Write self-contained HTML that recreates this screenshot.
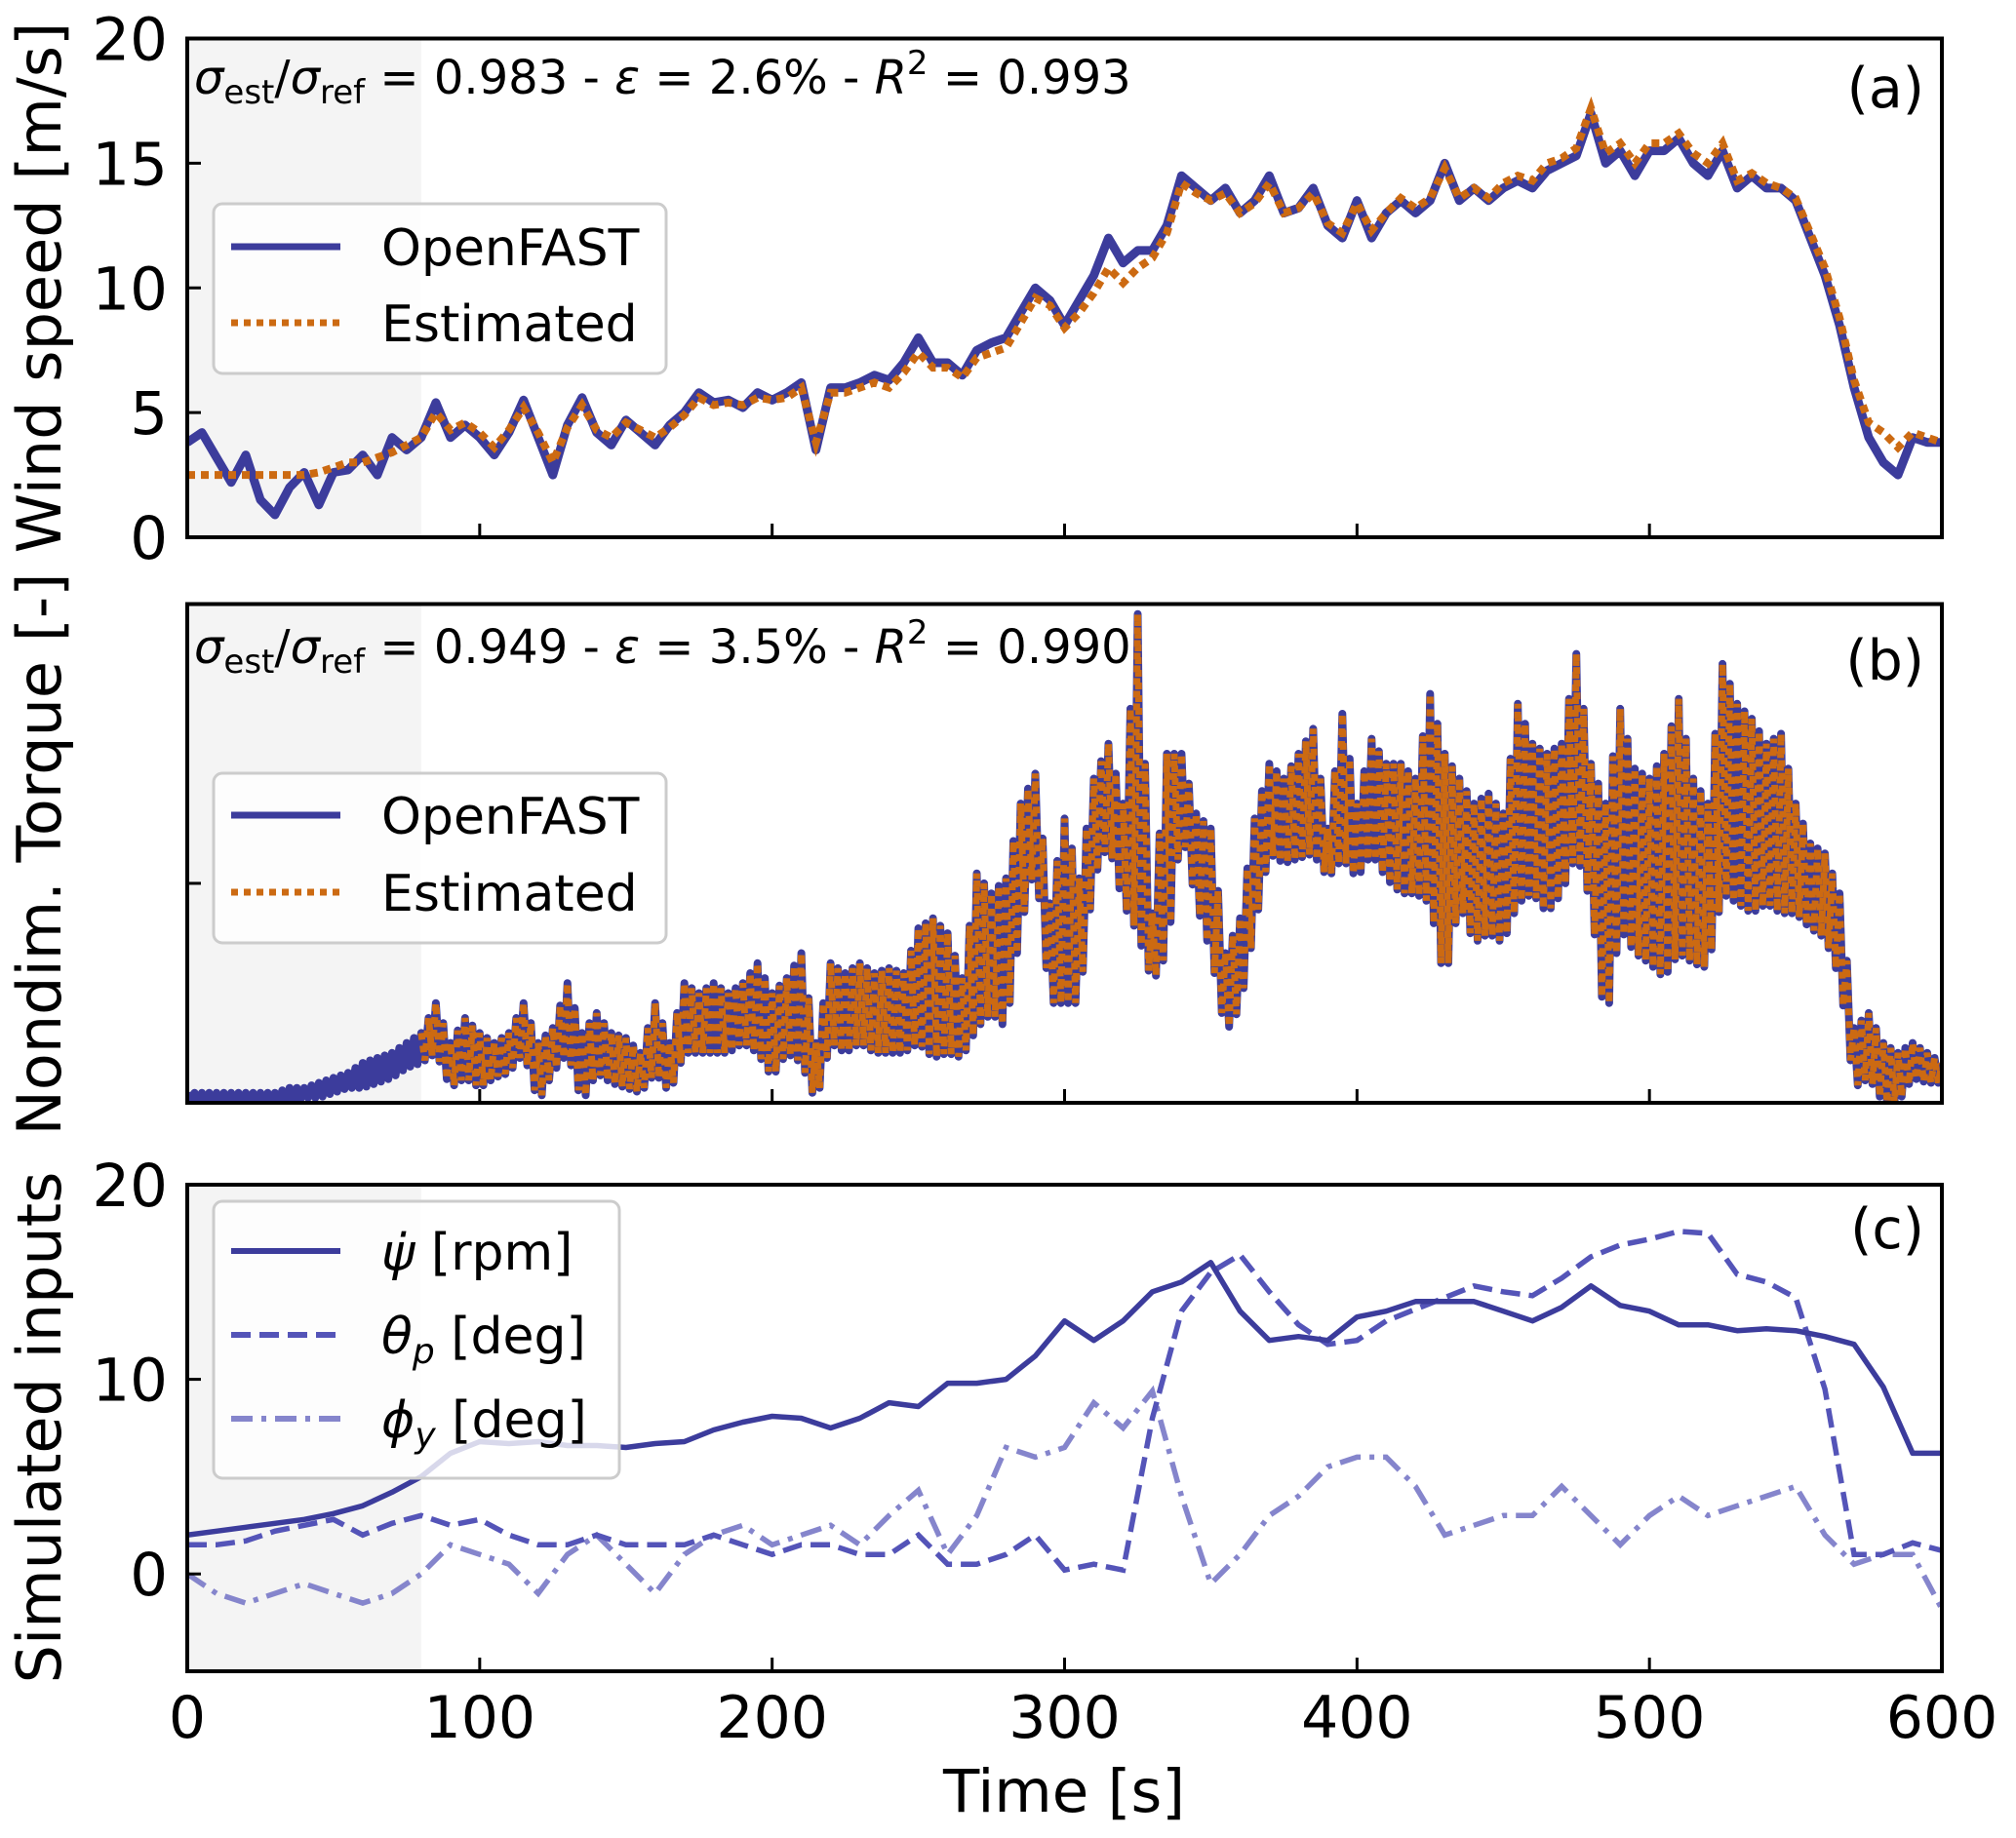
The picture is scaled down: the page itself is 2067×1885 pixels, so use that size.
<!DOCTYPE html>
<html><head><meta charset="utf-8"><style>
html,body{margin:0;padding:0;background:#fff}
svg{display:block;font-family:"DejaVu Sans","Liberation Sans",sans-serif}
</style></head><body>
<svg id="fig" width="2067" height="1885" viewBox="0 0 2067 1885">
<defs>
<clipPath id="clipA"><rect x="192" y="39.5" width="1799" height="511.5"/></clipPath>
<clipPath id="clipB"><rect x="192" y="619.5" width="1799" height="511.5"/></clipPath>
<clipPath id="clipC"><rect x="192" y="1215" width="1799" height="499"/></clipPath>
</defs>
<g id="panelA"></g>
<g id="panelB"></g>
<g id="panelC"></g>
</svg>
<script>
const windTimes = Array.from({length:121},(_,i)=>i*5);
const windRef = [3.8,4.2,3.2,2.2,3.3,1.5,0.9,2.0,2.6,1.3, 2.6,2.7,3.3,2.5,4.0,3.5,4.0,5.4,4.0,4.5, 4.0,3.3,4.2,5.5,4.0,2.5,4.5,5.6,4.2,3.7, 4.7,4.2,3.7,4.5,5.0,5.8,5.4,5.5,5.2,5.8, 5.5,5.8,6.2,3.5,6.0,6.0,6.2,6.5,6.3,7.0, 8.0,7.0,7.0,6.5,7.5,7.8,8.0,9.0,10.0,9.5, 8.5,9.5,10.5,12.0,11.0,11.5,11.5,12.5,14.5,14.0, 13.5,14.0,13.0,13.5,14.5,13.0,13.2,14.0,12.5,12.0, 13.5,12.0,13.0,13.5,13.0,13.5,15.0,13.5,14.0,13.5, 14.0,14.3,14.0,14.7,15.0,15.3,17.0,15.0,15.5,14.5, 15.5,15.5,16.0,15.0,14.5,15.5,14.0,14.5,14.0,14.0, 13.5,12.0,10.5,8.5,6.0,4.0,3.0,2.5,4.0,3.8,3.8];
const windEst = [2.5,2.5,2.5,2.5,2.5,2.5,2.5,2.5,2.5,2.6, 2.8,3.0,3.0,3.2,3.4,3.7,4.0,5.0,4.3,4.6, 4.2,3.6,4.3,5.2,4.2,3.0,4.4,5.3,4.3,4.0, 4.6,4.3,4.0,4.4,4.9,5.6,5.3,5.4,5.3,5.6, 5.5,5.6,6.0,3.8,5.8,5.8,6.0,6.2,6.0,6.6, 7.4,6.8,6.8,6.4,7.2,7.4,7.6,8.6,9.6,9.3, 8.4,9.0,9.8,10.8,10.2,10.8,11.2,12.2,14.2,13.8, 13.5,13.8,13.0,13.4,14.2,13.0,13.2,13.8,12.6,12.2, 13.4,12.3,13.0,13.6,13.2,13.6,14.8,13.6,14.0,13.6, 14.2,14.5,14.3,15.0,15.2,15.6,17.2,15.4,15.8,15.0, 15.8,15.8,16.2,15.4,15.0,15.8,14.3,14.6,14.2,14.0, 13.6,12.2,10.8,8.8,6.3,4.6,4.2,3.6,4.2,4.0,3.8];
const windTicks = [0,5,10,15,20];
const torqueHi = [.02,.02,.02,.02,.02,.02,.02,.03,.03,.04, .05,.06,.08,.09,.10,.12,.14,.20,.12,.17, .14,.12,.14,.20,.12,.15,.24,.14,.18,.14, .13,.10,.20,.12,.24,.22,.24,.22,.24,.28, .22,.25,.30,.12,.28,.26,.28,.26,.27,.26, .35,.37,.34,.25,.46,.42,.45,.60,.66,.40, .57,.45,.65,.72,.60,.98,.38,.70,.70,.58, .55,.30,.37,.57,.68,.65,.70,.75,.55,.78, .60,.73,.68,.68,.65,.82,.70,.65,.60,.62, .58,.80,.72,.70,.72,.90,.68,.60,.79,.67, .65,.70,.81,.65,.60,.88,.80,.77,.72,.74, .60,.52,.50,.42,.15,.18,.12,.10,.12,.10,.08];
const torqueLo = [0,0,0,0,0,0,0,0,.01,.01, .02,.03,.03,.04,.05,.07,.08,.10,.03,.05, .03,.05,.06,.10,.00,.06,.10,.00,.06,.04, .03,.02,.06,.02,.10,.10,.10,.10,.12,.10, .05,.10,.08,.00,.12,.10,.12,.10,.10,.10, .12,.09,.10,.09,.15,.18,.15,.35,.48,.20, .20,.20,.45,.52,.40,.34,.24,.30,.55,.40, .30,.14,.19,.35,.50,.48,.49,.50,.45,.49, .45,.50,.45,.42,.42,.40,.24,.40,.32,.34, .32,.40,.42,.38,.42,.50,.40,.15,.35,.30, .28,.25,.30,.28,.27,.42,.40,.38,.40,.38, .38,.35,.33,.25,.03,.05,.00,.00,.05,.04,.04];
const torqueTicks = [0.44];
const inputTimes = Array.from({length:61},(_,i)=>i*10);
const rotorSpeed = [2.0,2.2,2.4,2.6,2.8,3.1,3.5,4.2,5.0,6.2, 6.8,6.7,6.8,6.6,6.6,6.5,6.7,6.8,7.4,7.8, 8.1,8.0,7.5,8.0,8.8,8.6,9.8,9.8,10.0,11.2, 13.0,12.0,13.0,14.5,15.0,16.0,13.5,12.0,12.2,12.0, 13.2,13.5,14.0,14.0,14.0,13.5,13.0,13.7,14.8,13.8, 13.5,12.8,12.8,12.5,12.6,12.5,12.2,11.8,9.6,6.2,6.2];
const pitchAngle = [1.5,1.5,1.7,2.2,2.5,2.8,2.0,2.6,3.0,2.5, 2.8,2.0,1.5,1.5,2.0,1.5,1.5,1.5,2.0,1.5, 1.0,1.5,1.5,1.0,1.0,2.0,0.5,0.5,1.0,2.0, 0.2,0.5,0.2,8.0,13.5,15.5,16.4,14.5,12.8,11.8, 12.0,13.0,13.6,14.2,14.8,14.5,14.3,15.2,16.3,16.9, 17.2,17.6,17.5,15.4,15.0,14.2,9.5,1.0,1.0,1.6,1.2];
const yawAngle = [0.0,-1.0,-1.5,-1.0,-0.5,-1.0,-1.5,-1.0,0.0,1.5, 1.0,0.5,-1.0,1.0,2.0,0.5,-1.0,1.0,2.0,2.5, 1.5,2.0,2.5,1.5,3.0,4.3,1.0,3.0,6.5,6.0, 6.5,8.8,7.5,9.4,4.0,-0.5,1.0,3.0,4.0,5.5, 6.0,6.0,4.5,2.0,2.5,3.0,3.0,4.5,3.0,1.5, 3.0,4.0,3.0,3.5,4.0,4.5,2.0,0.5,1.0,1.0,-1.8];
const inputTicks = [0,10,20];
const timeTicks = [0,100,200,300,400,500,600];
const shadeEnd = 80;

const NS='http://www.w3.org/2000/svg';
const L=192,R=1991;
const X=t=>L+t*(R-L)/600;
const Ya=v=>551-v*(551-39.5)/20;
const Yb=q=>1131-q*(1131-619.5);
const Yc=v=>1714-(v+5)*(1714-1215)/25;
const navy='#3c3c9c', orange='#cc6a12', mid='#5454b8', light='#8585cc';
function mk(tag,attrs,parent){const e=document.createElementNS(NS,tag);for(const k in attrs)e.setAttribute(k,attrs[k]);parent.appendChild(e);return e;}
function pathFrom(xs,ys){return xs.map((x,i)=>(i?'L':'M')+x.toFixed(1)+' '+ys[i].toFixed(1)).join(' ');}

function frame(g,top,bot,clipId){
  const sh=mk('rect',{x:L,y:top,width:X(shadeEnd)-L,height:bot-top,fill:'#f4f4f4'},g);
  
  
  return mk('g',{'clip-path':'url(#'+clipId+')'},g);
}
function axes(g,top,bot,ticksY,yfun,labels,showX){
  timeTicks.forEach(t=>{
    if(t>0&&t<600){const tk=mk('line',{x1:X(t),x2:X(t),y1:bot,y2:bot-14,stroke:'#000','stroke-width':3},g);
    
    }
    if(showX){const tl=mk('text',{x:X(t),y:1782,'font-size':60,'text-anchor':'middle'},g);tl.textContent=t;
    
    }
  });
  ticksY.forEach(v=>{const y=yfun(v);
    if(y>top+2&&y<bot-2){const tk=mk('line',{x1:L,x2:L+14,y1:y,y2:y,stroke:'#000','stroke-width':3},g);
    
    }
    if(labels){const tl=mk('text',{x:172,y:y+22,'font-size':61,'text-anchor':'end'},g);tl.textContent=v;
    
    }
  });
  const fr=mk('rect',{x:L,y:top,width:R-L,height:bot-top,fill:'none',stroke:'#000','stroke-width':4},g);
  
  
}
function ylabel(g,text,cy){const t=mk('text',{x:0,y:0,'font-size':62,'text-anchor':'middle',transform:`translate(62,${cy}) rotate(-90)`},g);t.textContent=text;
  
  }
function stats(g,y,a,b,c){
  const t=mk('text',{x:199,y:y,'font-size':48},g);
  
  
  t.innerHTML=`<tspan font-style="italic">σ</tspan><tspan font-size="34" dy="10">est</tspan><tspan dy="-10">/</tspan><tspan font-style="italic">σ</tspan><tspan font-size="34" dy="10">ref</tspan><tspan dy="-10"> = ${a} - </tspan><tspan font-style="italic">ε</tspan><tspan> = ${b} - </tspan><tspan font-style="italic">R</tspan><tspan font-size="34" dy="-20">2</tspan><tspan dy="20"> = ${c}</tspan>`;
}
function panelLabel(g,txt,y){const t=mk('text',{x:1973,y:y,'font-size':57,'text-anchor':'end'},g);t.textContent=txt;
  
  }
function legendBox(g,x,y,w,h){const r=mk('rect',{x:x,y:y,width:w,height:h,rx:9,fill:'rgba(255,255,255,0.8)',stroke:'#cccccc','stroke-width':3},g);
  
  }
function legendEntry(g,y,stroke,dash,width,label,html){
  const ln=mk('line',{x1:237,x2:349,y1:y,y2:y,stroke:stroke,'stroke-width':width,'stroke-dasharray':dash||'none'},g);
  
  
  const t=mk('text',{x:391,y:y+19,'font-size':52},g);
  if(html)t.innerHTML=label;else t.textContent=label;
  
  
}

// Panel A
const gA=document.getElementById('panelA');
const dA=frame(gA,39.5,551,'clipA');
const pRefA=mk('path',{d:pathFrom(windTimes.map(X),windRef.map(Ya)),fill:'none',stroke:navy,'stroke-width':9,'stroke-linejoin':'round'},dA);


const pEstA=mk('path',{d:pathFrom(windTimes.map(X),windEst.map(Ya)),fill:'none',stroke:orange,'stroke-width':8,'stroke-dasharray':'8 6'},dA);


axes(gA,39.5,551,windTicks,Ya,true,false);
ylabel(gA,'Wind speed [m/s]',295);
stats(gA,96,'0.983','2.6%','0.993');
panelLabel(gA,'(a)',110);
legendBox(gA,219,209,464,174);
legendEntry(gA,253,navy,null,7,'OpenFAST');
legendEntry(gA,331,orange,'7 6',7,'Estimated');

// Panel B
const gB=document.getElementById('panelB');
const dB=frame(gB,619.5,1131,'clipB');
function torquePts(start){const xs=[],ys=[];
  for(let i=start;i<windTimes.length-1;i++){
    for(let k=0;k<4;k++){const f=k/4;const hi=torqueHi[i]+(torqueHi[i+1]-torqueHi[i])*f;const lo=torqueLo[i]+(torqueLo[i+1]-torqueLo[i])*f;
      xs.push(X(windTimes[i]+5*f));ys.push(Yb(k%2?lo:hi));}
  }
  xs.push(X(600));ys.push(Yb(torqueHi[120]));return [xs,ys];}
const [txR,tyR]=torquePts(0);
const pRefB=mk('path',{d:pathFrom(txR,tyR),fill:'none',stroke:navy,'stroke-width':8,'stroke-linejoin':'round'},dB);


const [txE,tyE]=torquePts(16);
const pEstB=mk('path',{d:pathFrom(txE,tyE),fill:'none',stroke:orange,'stroke-width':7,'stroke-dasharray':'7 6'},dB);


axes(gB,619.5,1131,torqueTicks,Yb,false,false);
ylabel(gB,'Nondim. Torque [-]',876);
stats(gB,680,'0.949','3.5%','0.990');
panelLabel(gB,'(b)',697);
legendBox(gB,219,793,464,174);
legendEntry(gB,836,navy,null,7,'OpenFAST');
legendEntry(gB,915,orange,'7 6',7,'Estimated');

// Panel C
const gC=document.getElementById('panelC');
const dC=frame(gC,1215,1714,'clipC');
const pYaw=mk('path',{d:pathFrom(inputTimes.map(X),yawAngle.map(Yc)),fill:'none',stroke:light,'stroke-width':5.5,'stroke-dasharray':'22 9 5 9'},dC);


const pPitch=mk('path',{d:pathFrom(inputTimes.map(X),pitchAngle.map(Yc)),fill:'none',stroke:mid,'stroke-width':5.5,'stroke-dasharray':'20 9'},dC);


const pRot=mk('path',{d:pathFrom(inputTimes.map(X),rotorSpeed.map(Yc)),fill:'none',stroke:navy,'stroke-width':5.5,'stroke-linejoin':'round'},dC);


axes(gC,1215,1714,inputTicks,Yc,true,true);
ylabel(gC,'Simulated inputs',1464);
panelLabel(gC,'(c)',1280);
legendBox(gC,219,1232,416,284);
legendEntry(gC,1283,navy,null,6,'<tspan font-style="italic">ψ̇</tspan> [rpm]',true);
legendEntry(gC,1369,mid,'20 9',6,'<tspan font-style="italic">θ</tspan><tspan font-style="italic" font-size="36" dy="10">p</tspan><tspan dy="-10"> [deg]</tspan>',true);
legendEntry(gC,1455,light,'22 9 5 9',6,'<tspan font-style="italic">ϕ</tspan><tspan font-style="italic" font-size="36" dy="10">y</tspan><tspan dy="-10"> [deg]</tspan>',true);

const xt=mk('text',{x:1091,y:1858,'font-size':61,'text-anchor':'middle'},document.getElementById('fig'));
xt.textContent='Time [s]';


</script>
</body></html>
